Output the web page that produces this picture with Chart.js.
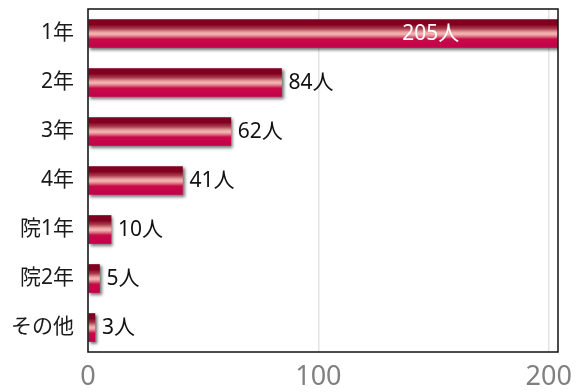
<!DOCTYPE html>
<html lang="ja">
<head>
    <meta charset="UTF-8">
    <title>学年別人数</title>
    <script src="https://cdn.jsdelivr.net/npm/chart.js"></script>
    <style>
        html, body { margin: 0; padding: 0; background: #fff; }
        .chart-container { position: relative; width: 580px; height: 392px; }
    </style>
</head>
<body>
    <div class="chart-container">
        <canvas id="gradeChart"></canvas>
    </div>

    <script>
        // data
        const grades = ["1年", "2年", "3年", "4年", "院1年", "院2年", "その他"];
        const counts = [205, 84, 62, 41, 10, 5, 3];
        const xTickValues = [0, 100, 200];
        const unit = "人";

        const FONT = '"Noto Sans", "Noto Sans CJK JP", sans-serif';
        const BAR_H = 28;

        // vertical gloss gradient for each bar
        const barFill = (ctx) => {
            const chart = ctx.chart;
            if (!chart.chartArea || !chart.scales.y) return "#b0103a";
            const cy = chart.scales.y.getPixelForValue(ctx.dataIndex);
            const g = chart.ctx.createLinearGradient(0, cy - BAR_H / 2, 0, cy + BAR_H / 2);
            g.addColorStop(0, "#7c0022");
            g.addColorStop(0.18, "#82001f");
            g.addColorStop(0.32, "#a83a4c");
            g.addColorStop(0.45, "#e8a0a0");
            g.addColorStop(0.52, "#f4b8b4");
            g.addColorStop(0.6, "#e07888");
            g.addColorStop(0.7, "#c80a48");
            g.addColorStop(1, "#c4004a");
            return g;
        };

        const shadowPlugin = {
            id: "barShadow",
            beforeDatasetsDraw(chart) {
                const c = chart.ctx;
                c.save();
                c.shadowColor = "rgba(0,0,0,0.55)";
                c.shadowBlur = 3;
                c.shadowOffsetX = 2;
                c.shadowOffsetY = 2;
            },
            afterDatasetsDraw(chart) {
                chart.ctx.restore();
            }
        };

        const framePlugin = {
            id: "frame",
            afterDraw(chart) {
                const { ctx, chartArea: a } = chart;
                ctx.save();
                ctx.strokeStyle = "#111";
                ctx.lineWidth = 1.5;
                ctx.strokeRect(a.left, a.top, a.right - a.left, a.bottom - a.top);
                ctx.restore();
            }
        };

        const labelPlugin = {
            id: "valueLabels",
            afterDatasetsDraw(chart) {
                const ctx = chart.ctx;
                const meta = chart.getDatasetMeta(0);
                ctx.save();
                ctx.font = "21px " + FONT;
                ctx.textBaseline = "middle";
                meta.data.forEach((bar, i) => {
                    const text = counts[i] + unit;
                    const w = ctx.measureText(text).width;
                    if (bar.x + 7 + w > chart.chartArea.right) {
                        ctx.fillStyle = "#fff";
                        ctx.textAlign = "right";
                        ctx.fillText(text, bar.x - 101, bar.y + 1);
                    } else {
                        ctx.fillStyle = "#111";
                        ctx.textAlign = "left";
                        ctx.fillText(text, bar.x + 7, bar.y + 1);
                    }
                });
                ctx.restore();
            }
        };

        new Chart(document.getElementById("gradeChart").getContext("2d"), {
            type: "bar",
            data: {
                labels: grades,
                datasets: [{
                    data: counts,
                    backgroundColor: barFill,
                    borderWidth: 0,
                    barThickness: BAR_H
                }]
            },
            options: {
                indexAxis: "y",
                responsive: true,
                maintainAspectRatio: false,
                animation: false,
                layout: { padding: { top: 9, right: 22, left: 0, bottom: 0 } },
                plugins: {
                    legend: { display: false },
                    tooltip: { enabled: false }
                },
                scales: {
                    x: {
                        min: 0,
                        max: 204,
                        afterBuildTicks: (scale) => {
                            scale.ticks = xTickValues.map(v => ({ value: v }));
                        },
                        afterFit: (scale) => {
                            scale.height = 40;
                            scale.paddingLeft = 0;
                            scale.paddingRight = 0;
                        },
                        border: { display: false },
                        grid: { color: "#e4e4e4", lineWidth: 1.5, drawTicks: false },
                        ticks: {
                            color: "#808080",
                            font: { family: FONT, size: 27 },
                            padding: 9,
                            maxRotation: 0
                        }
                    },
                    y: {
                        afterFit: (scale) => {
                            scale.width = 88;
                            scale.paddingTop = 0;
                            scale.paddingBottom = 0;
                        },
                        border: { display: false },
                        grid: { display: false, drawTicks: false },
                        ticks: {
                            color: "#1a1a1a",
                            font: { family: FONT, size: 21 },
                            padding: 14
                        }
                    }
                }
            },
            plugins: [shadowPlugin, labelPlugin, framePlugin]
        });
    </script>
</body>
</html>
